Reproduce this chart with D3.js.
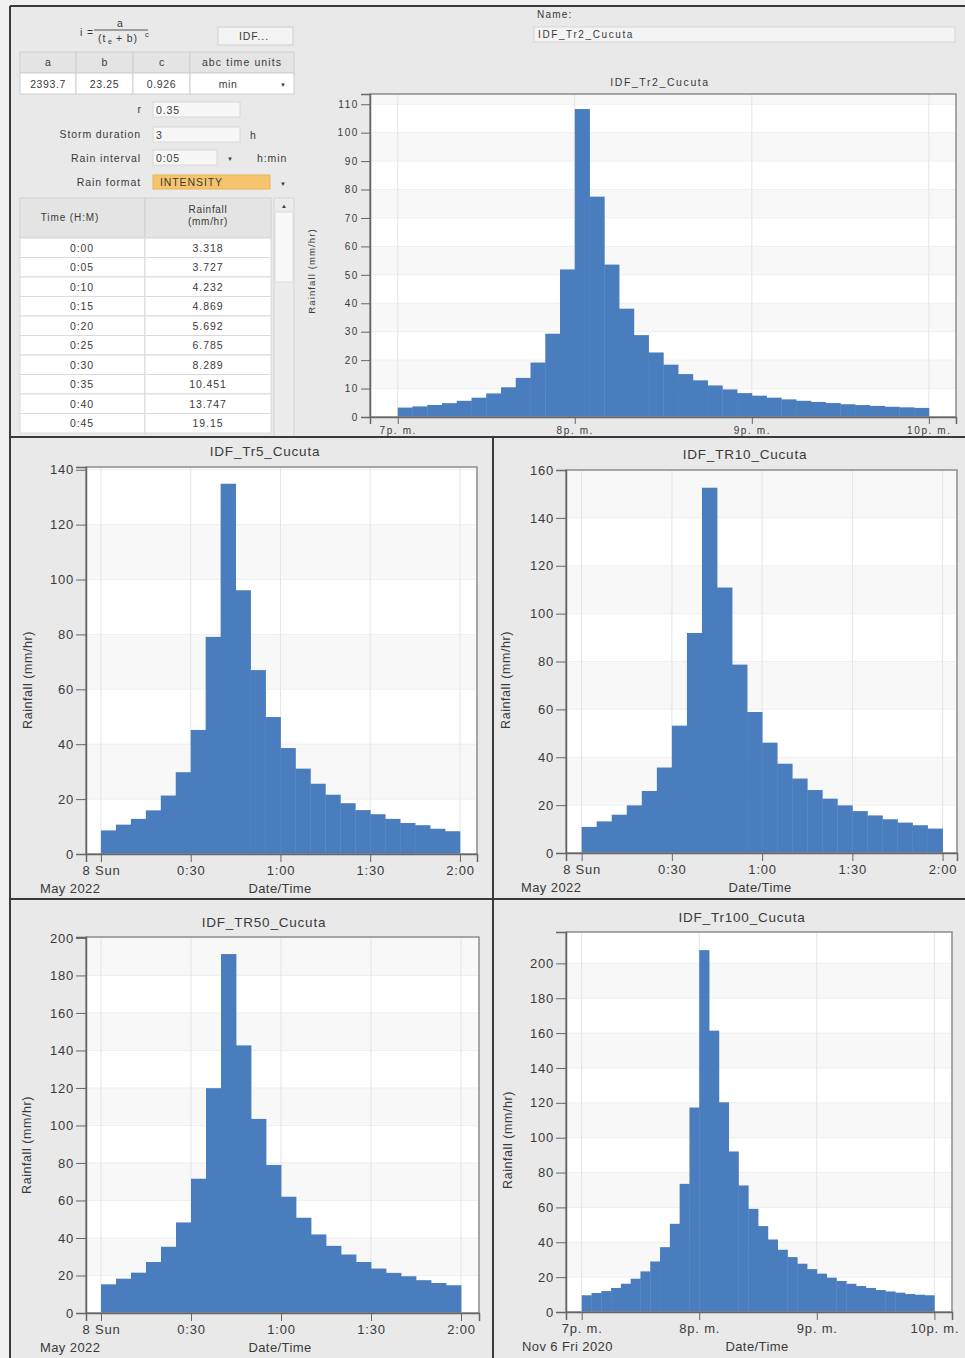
<!DOCTYPE html>
<meta charset="utf-8">
<style>
body { margin: 0; background: #f1f1f1; }
svg text { font-family: "Liberation Sans", Arial, sans-serif; fill: #3a3a3a; }
</style>
<svg width="965" height="1358"></svg>
<script src="https://d3js.org/d3.v7.min.js"></script>
<script>

// rainfall intensity (mm/hr), one bar per 5 minutes
var tr2Values = [3.318, 3.727, 4.232, 4.869, 5.692, 6.785, 8.289, 10.451, 13.747, 19.15,
  29.3, 51.9, 108.3, 77.5, 53.6, 38.1, 28.8, 22.7, 18.4, 15.1, 12.9, 11.1, 9.7, 8.4,
  7.5, 6.8, 6.2, 5.7, 5.3, 4.9, 4.5, 4.2, 3.9, 3.6, 3.4, 3.2];
var tr5Values = [8.6, 10.7, 12.8, 15.9, 21.3, 29.8, 45.2, 79.1, 134.9, 96.1, 67.0, 49.9,
  38.6, 31.1, 25.6, 21.6, 18.5, 16.0, 14.5, 12.8, 11.3, 10.5, 9.2, 8.3];
var tr10Values = [10.9, 13.2, 16.0, 19.9, 25.9, 35.7, 53.2, 91.9, 152.6, 110.9, 78.7, 58.9,
  46.1, 37.3, 31.1, 26.3, 22.7, 19.9, 17.5, 15.7, 14.1, 12.7, 11.6, 10.2];
var tr50Values = [15.3, 18.3, 21.5, 27.2, 35.3, 48.3, 71.6, 119.9, 191.4, 142.7, 103.5, 78.9,
  62.0, 50.8, 41.9, 35.8, 31.2, 27.2, 23.7, 21.4, 19.6, 17.5, 16.0, 14.8];
var tr100Values = [9.6, 10.9, 12.0, 13.8, 16.2, 19.1, 23.3, 29.0, 37.2, 50.6, 73.5, 117.3,
  207.6, 161.4, 120.3, 92.1, 72.6, 59.2, 49.3, 41.6, 35.7, 31.5, 27.7, 24.6, 22.0, 19.7,
  17.8, 16.2, 14.9, 13.8, 12.6, 11.8, 11.1, 10.3, 9.9, 9.6];

var hourTickLabels = ["7p. m.", "8p. m.", "9p. m.", "10p. m."];
var hourTickMinutes = [0, 60, 120, 180];
var halfHourTickLabels = ["8 Sun", "0:30", "1:00", "1:30", "2:00"];
var halfHourTickMinutes = [0, 30, 60, 90, 120];

var idfHeaders = ["a", "b", "c", "abc time units"];
var idfParams = ["2393.7", "23.25", "0.926", "min"];
var tableTimes = ["0:00", "0:05", "0:10", "0:15", "0:20", "0:25", "0:30", "0:35", "0:40", "0:45"];

var step = 5;
var barColor = "#4a7dbd";

var svg = d3.select("svg");

svg.append("rect").attr("x", 10).attr("y", 6).attr("width", 955).attr("height", 1352).attr("fill", "#e9e9e9");

function txt(x, y, s, size, anchor, ls) {
  return svg.append("text").attr("x", x).attr("y", y)
    .style("font-size", size + "px")
    .style("letter-spacing", (ls || 0) + "px")
    .attr("text-anchor", anchor || "start")
    .text(s);
}

function box(x, y, w, h, fill, stroke) {
  return svg.append("rect").attr("x", x).attr("y", y).attr("width", w).attr("height", h)
    .attr("fill", fill).attr("stroke", stroke || "#c8c8c8").attr("stroke-width", 1);
}

// ---- top-left form ----
var ff = 10.5, fl = 0.9;
txt(80, 36, "i =", ff, "start", fl);
txt(120, 27, "a", ff, "middle");
svg.append("line").attr("x1", 94).attr("x2", 148).attr("y1", 30).attr("y2", 30).attr("stroke", "#555");
txt(98, 42, "(t", ff, "start", fl);
txt(108, 44, "e", 7);
txt(116, 42, "+ b)", ff, "start", fl);
txt(145, 37, "c", 7.5);
box(218, 27, 75, 18, "#f3f3f3", "#d0d0d0");
txt(254, 40, "IDF...", ff, "middle", fl);

var idfCols = [20, 76, 133, 190, 294];
idfHeaders.forEach(function(h, i) {
  box(idfCols[i], 52, idfCols[i + 1] - idfCols[i], 21, "#e4e4e4", "#cfcfcf");
  txt((idfCols[i] + idfCols[i + 1]) / 2, 66, h, ff, "middle", i < 3 ? 0 : 1.1);
  box(idfCols[i], 73, idfCols[i + 1] - idfCols[i], 21, "#fff", "#cfcfcf");
  txt(i < 3 ? (idfCols[i] + idfCols[i + 1]) / 2 : 228, 88, idfParams[i], ff, "middle", 0.6);
});
txt(283, 87, "▼", 6, "middle");

txt(141, 113, "r", ff, "end");
box(153, 102, 87, 15, "#f7f7f7", "#d8d8d8");
txt(156, 114, "0.35", ff, "start", fl);
txt(141, 138, "Storm duration", ff, "end", fl);
box(153, 127, 87, 15, "#f7f7f7", "#d8d8d8");
txt(156, 139, "3", ff);
txt(250, 139, "h", ff);
txt(141, 162, "Rain interval", ff, "end", fl);
box(153, 150, 64, 15, "#f7f7f7", "#d8d8d8");
txt(156, 162, "0:05", ff, "start", fl);
txt(230, 161, "▼", 6, "middle");
txt(257, 162, "h:min", ff, "start", fl);
txt(141, 186, "Rain format", ff, "end", fl);
box(153, 175, 117, 14, "#f6c46c", "#e8b45a");
txt(160, 186, "INTENSITY", ff, "start", fl);
txt(283, 186, "▼", 6, "middle");

// rainfall table, first rows of the Tr2 series
box(20, 198, 125, 40, "#e4e4e4", "#cfcfcf");
box(145, 198, 126, 40, "#e4e4e4", "#cfcfcf");
txt(70, 221, "Time (H:M)", 10, "middle", 0.9);
txt(208, 213, "Rainfall", 10, "middle", 0.7);
txt(208, 225, "(mm/hr)", 10, "middle", 0.7);
var rowH = 19.5;
tableTimes.forEach(function(t, i) {
  var y0 = 238 + i * rowH;
  box(20, y0, 125, rowH, "#fff", "#dadada");
  box(145, y0, 126, rowH, "#fff", "#dadada");
  txt(82, y0 + 13.5, t, ff, "middle", fl);
  txt(208, y0 + 13.5, String(tr2Values[i]), ff, "middle", fl);
});
box(274, 198, 20, 239, "#ececec", "#d6d6d6");
box(275, 212, 18, 70, "#f8f8f8", "#dcdcdc");
txt(284, 208, "▲", 6, "middle");

// name field
txt(537, 18, "Name:", 10, "start", 1.2);
box(534, 27, 421, 15, "#f4f4f4", "#d6d6d6");
txt(538, 38, "IDF_Tr2_Cucuta", 10, "start", 1.6);

// ---- charts ----
function drawChart(c) {
  var total = c.values.length * step;
  var x = d3.scaleLinear().domain([-c.padL, total + c.padR]).range([c.left, c.right]);
  var y = d3.scaleLinear().domain([0, c.yMax]).range([c.bottom, c.top]);
  var g = svg.append("g");

  g.append("rect").attr("x", c.left).attr("y", c.top)
    .attr("width", c.right - c.left).attr("height", c.bottom - c.top).attr("fill", "#fff");

  var yTicks = d3.range(0, c.yMax + 0.01, c.yStep);
  g.selectAll(".band").data(yTicks.filter(function(d, i) { return i % 2 === 1; }))
    .enter().append("rect")
    .attr("x", c.left).attr("width", c.right - c.left)
    .attr("y", function(d) { return y(Math.min(d + c.yStep, c.yMax)); })
    .attr("height", function(d) { return y(d) - y(Math.min(d + c.yStep, c.yMax)); })
    .attr("fill", "#f8f8f8");
  g.selectAll(".hg").data(yTicks).enter().append("line")
    .attr("x1", c.left).attr("x2", c.right)
    .attr("y1", function(d) { return y(d); }).attr("y2", function(d) { return y(d); })
    .attr("stroke", "#efefef");
  g.selectAll(".vg").data(c.tickMinutes).enter().append("line")
    .attr("x1", function(d) { return x(d); }).attr("x2", function(d) { return x(d); })
    .attr("y1", c.top).attr("y2", c.bottom)
    .attr("stroke", "#e4e4e4");

  g.selectAll(".bar").data(c.values).enter().append("rect")
    .attr("x", function(d, i) { return x(i * step); })
    .attr("width", function(d, i) { return x((i + 1) * step) - x(i * step) + 0.4; })
    .attr("y", function(d) { return y(d); })
    .attr("height", function(d) { return y(0) - y(d); })
    .attr("fill", barColor);

  g.append("rect").attr("x", c.left).attr("y", c.top)
    .attr("width", c.right - c.left).attr("height", c.bottom - c.top)
    .attr("fill", "none").attr("stroke", "#8c8c8c").attr("stroke-width", 1.5);

  var yAxis = g.append("g").attr("transform", "translate(" + c.left + ",0)")
    .call(d3.axisLeft(y).tickValues(yTicks).tickSize(c.tick).tickPadding(2));
  var xAxis = g.append("g").attr("transform", "translate(0," + c.bottom + ")")
    .call(d3.axisBottom(x).tickValues(c.tickMinutes).tickSize(c.tick - 2)
      .tickFormat(function(d, i) { return c.tickLabels[i]; }).tickPadding(c.xPad));
  [yAxis, xAxis].forEach(function(a) {
    a.select(".domain").attr("stroke", "#666").attr("stroke-width", 1.5);
    a.selectAll(".tick line").attr("stroke", "#666");
    a.selectAll(".tick text").style("font-size", c.font + "px")
      .style("letter-spacing", c.ls + "px")
      .style("font-family", "Liberation Sans, Arial, sans-serif").attr("fill", "#3a3a3a");
  });

  txt(c.titleX, c.titleY, c.title, c.font + 0.5, "middle", c.ls);
  svg.append("text")
    .attr("transform", "translate(" + c.yLabelX + "," + c.yLabelY + ") rotate(-90)")
    .attr("text-anchor", "middle").attr("dy", "0.35em")
    .style("font-size", (c.font - 0.5) + "px")
    .style("letter-spacing", c.ls * 0.7 + "px")
    .text("Rainfall (mm/hr)");
  if (c.dateLabel) {
    txt(c.dateX, c.bottom + 39, c.dateLabel, c.font, "start", c.ls * 0.5);
    txt(c.xTitleX, c.bottom + 39, "Date/Time", c.font, "middle", c.ls * 0.5);
  }
}

drawChart({ values: tr2Values, left: 370, right: 956, top: 94, bottom: 417, padL: 9.4, padR: 9.2,
  yMax: 113.6, yStep: 10, tickMinutes: hourTickMinutes, tickLabels: hourTickLabels,
  title: "IDF_Tr2_Cucuta", titleX: 660, titleY: 86, yLabelX: 312, yLabelY: 271,
  font: 10, ls: 1.6, tick: 9, xPad: 3 });

drawChart({ values: tr5Values, left: 86, right: 477, top: 467, bottom: 854, padL: 5, padR: 5.7,
  yMax: 141, yStep: 20, tickMinutes: halfHourTickMinutes, tickLabels: halfHourTickLabels,
  title: "IDF_Tr5_Cucuta", titleX: 265, titleY: 456, yLabelX: 28, yLabelY: 680,
  font: 13, ls: 0.8, tick: 10, xPad: 4, dateLabel: "May 2022", dateX: 40, xTitleX: 280 });

drawChart({ values: tr10Values, left: 566, right: 957, top: 470, bottom: 853, padL: 5.2, padR: 4.8,
  yMax: 160, yStep: 20, tickMinutes: halfHourTickMinutes, tickLabels: halfHourTickLabels,
  title: "IDF_TR10_Cucuta", titleX: 745, titleY: 459, yLabelX: 506, yLabelY: 680,
  font: 13, ls: 0.8, tick: 10, xPad: 4, dateLabel: "May 2022", dateX: 521, xTitleX: 760 });

drawChart({ values: tr50Values, left: 86, right: 479, top: 937, bottom: 1313, padL: 5, padR: 6,
  yMax: 200.5, yStep: 20, tickMinutes: halfHourTickMinutes, tickLabels: halfHourTickLabels,
  title: "IDF_TR50_Cucuta", titleX: 264, titleY: 927, yLabelX: 27, yLabelY: 1145,
  font: 13, ls: 0.8, tick: 10, xPad: 4, dateLabel: "May 2022", dateX: 40, xTitleX: 280 });

drawChart({ values: tr100Values, left: 566, right: 952, top: 932, bottom: 1312, padL: 8, padR: 9,
  yMax: 218, yStep: 20, tickMinutes: hourTickMinutes, tickLabels: hourTickLabels,
  title: "IDF_Tr100_Cucuta", titleX: 742, titleY: 922, yLabelX: 508, yLabelY: 1140,
  font: 13, ls: 0.8, tick: 10, xPad: 4, dateLabel: "Nov 6 Fri 2020", dateX: 522, xTitleX: 757 });

// panel separators and frame
var sep = [[10, 6, 965, 6], [10, 6, 10, 1358], [10, 437, 965, 437], [10, 899, 965, 899], [493, 437, 493, 1358]];
svg.selectAll(".sep").data(sep).enter().append("line")
  .attr("x1", function(d) { return d[0]; }).attr("y1", function(d) { return d[1]; })
  .attr("x2", function(d) { return d[2]; }).attr("y2", function(d) { return d[3]; })
  .attr("stroke", "#3a3a3a").attr("stroke-width", 2);

</script>
